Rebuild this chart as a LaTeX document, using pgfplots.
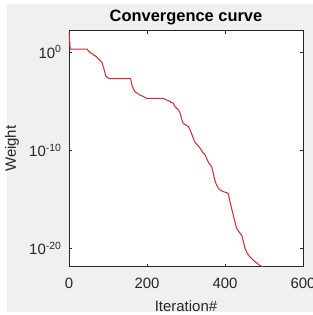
\documentclass[border=0pt]{standalone}
\usepackage{pgfplots}
\pgfplotsset{compat=1.18}
\usepackage{fontspec}
\setmainfont{Liberation Sans}
\definecolor{figbg}{RGB}{240,240,240}
\definecolor{axcol}{RGB}{38,38,38}
\definecolor{linecol}{RGB}{215,40,45}
\begin{document}
\begin{tikzpicture}
\path[use as bounding box] (-69bp,-48.3bp) rectangle (244bp,266.7bp);
\fill[white] (-69bp,-48.3bp) rectangle (244bp,266.7bp);
\fill[figbg] (-62bp,-45.3bp) rectangle (244bp,262.7bp);
\begin{axis}[
  at={(0,0)}, anchor=south west,
  scale only axis, width=234bp, height=236bp,
  ymode=log,
  xmin=0, xmax=600, ymin=1.259e-22, ymax=1.479e2,
  xtick={0,200,400,600},
  ytick={1e-20,1e-10,1},
  yticklabels={10\textsuperscript{-20},10\textsuperscript{-10},10\textsuperscript{0}},
  minor ytick={}, minor xtick={},
  log basis y=10,
  tick align=inside,
  major tick length=3bp,
  axis line style={axcol, line width=0.6bp},
  every tick/.style={axcol, line width=0.6bp},
  axis background/.style={fill=white},
  /pgf/number format/assume math mode=true,
  tick label style={font=\fontsize{15}{18}\selectfont, text=axcol},
  xticklabel style={yshift=-8bp},
  yticklabel style={xshift=-4bp},
  title={Convergence curve},
  title style={font=\bfseries\fontsize{16.5}{19}\selectfont, yshift=-4bp},
  xlabel={Iteration\#},
  xlabel style={font=\fontsize{15}{18}\selectfont, text=axcol, yshift=-5bp},
  ylabel={Weight},
  ylabel style={font=\fontsize{15}{18}\selectfont, text=axcol, at={(axis description cs:-0.2436,0.5)}, anchor=center},
  clip=true,
]
\addplot[linecol, line width=1bp] coordinates {
(0,9.55e1)
(2,1.0e1)
(3,1.905e0)
(47,1.905e0)
(50,1.2e0)
(54,8.51e-1)
(61,6.31e-1)
(64,4.5e-1)
(68,3.98e-1)
(73,2.5e-1)
(77,1.778e-1)
(85,7.94e-2)
(88,3.0e-2)
(90,1.698e-2)
(94,3.55e-3)
(103,1.905e-3)
(158,1.905e-3)
(160,8.0e-4)
(162,3.162e-4)
(166,1.5e-4)
(169,8.91e-5)
(176,6.0e-5)
(182,3.98e-5)
(190,3.0e-5)
(199,1.862e-5)
(242,1.862e-5)
(250,1.259e-5)
(258,1.0e-5)
(262,7.0e-6)
(267,6.31e-6)
(271,3.0e-6)
(276,1.778e-6)
(281,1.2e-6)
(285,5.62e-7)
(290,1.0e-7)
(293,5.01e-8)
(300,3.5e-8)
(306,2.512e-8)
(311,1.0e-8)
(315,3.98e-9)
(319,1.5e-9)
(323,6.31e-10)
(330,3.0e-10)
(336,1.585e-10)
(343,6.0e-11)
(349,3.162e-11)
(358,5.0e-12)
(366,1.995e-12)
(370,4.0e-13)
(374,7.94e-14)
(378,3.0e-14)
(383,1.259e-14)
(390,7.5e-15)
(396,5.62e-15)
(408,3.98e-15)
(413,5.01e-16)
(417,1.1e-16)
(421,2.512e-17)
(426,4.0e-18)
(430,1e-18)
(437,4.0e-19)
(443,1.995e-19)
(447,5.0e-20)
(451,1e-20)
(457,3.0e-21)
(464,1.259e-21)
(472,6.0e-22)
(481,3.162e-22)
(490,1.585e-22)
(498,1.259e-22)
};
\end{axis}
\end{tikzpicture}
\end{document}
